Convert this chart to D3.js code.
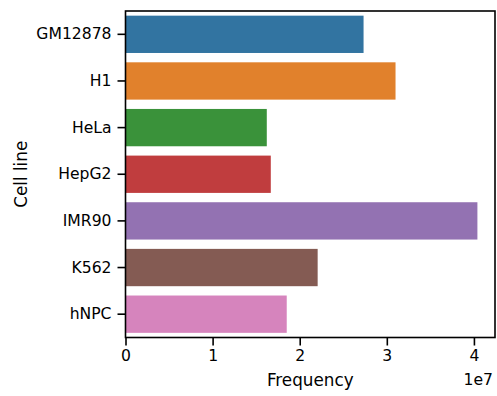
<!DOCTYPE html>
<html><head><meta charset="utf-8">
<script src="https://cdn.jsdelivr.net/npm/d3@7"></script>
<style>body{margin:0;background:#fff}svg{display:block}text{font-family:"DejaVu Sans",sans-serif;fill:#000}</style>
</head><body>
<script>
const categories = ["GM12878","H1","HeLa","HepG2","IMR90","K562","hNPC"];
const values = [2.733e7, 3.10e7, 1.622e7, 1.668e7, 4.04e7, 2.206e7, 1.851e7];
const colors = ["#3274a1","#e1812c","#3a923a","#c03d3e","#9372b2","#845b53","#d684bd"];
const xTicks = [0,1e7,2e7,3e7,4e7];

const W=497,H=396;
const L=125.5,R=495,T=11,B=337.5;
const svg=d3.select("body").append("svg").attr("width",W).attr("height",H);
const x=d3.scaleLinear().domain([0,d3.max(values)*1.05]).range([L,R]);
const y=d3.scaleBand().domain(categories).range([T,B]).paddingInner(0.2).paddingOuter(0.1);

svg.selectAll("rect.bar").data(categories).join("rect").attr("class","bar")
  .attr("x",x(0)).attr("y",d=>y(d)).attr("height",y.bandwidth())
  .attr("width",(d,i)=>x(values[i])-x(0)).attr("fill",(d,i)=>colors[i]);

// x axis
const xa=svg.append("g").attr("transform",`translate(0,${B})`)
  .call(d3.axisBottom(x).tickValues(xTicks).tickFormat(d=>d/1e7).tickSizeOuter(0).tickSize(8).tickPadding(4));
xa.select(".domain").remove();
xa.selectAll("line").attr("stroke","#000").attr("stroke-width",1.6);
xa.selectAll("text").attr("font-size",15.6).attr("font-family","DejaVu Sans");

// y axis
const ya=svg.append("g").attr("transform",`translate(${L},0)`)
  .call(d3.axisLeft(y).tickSizeOuter(0).tickSize(8).tickPadding(6));
ya.select(".domain").remove();
ya.selectAll("line").attr("stroke","#000").attr("stroke-width",1.6);
ya.selectAll("text").attr("font-size",15.6).attr("font-family","DejaVu Sans");

// frame
svg.append("rect").attr("x",L).attr("y",T).attr("width",R-L).attr("height",B-T)
  .attr("fill","none").attr("stroke","#000").attr("stroke-width",1.6);

svg.append("text").attr("x",(L+R)/2).attr("y",386).attr("text-anchor","middle")
  .attr("font-size",16.8).text("Frequency");
svg.append("text").attr("x",R-2).attr("y",385).attr("text-anchor","end")
  .attr("font-size",15.6).text("1e7");
svg.append("text").attr("transform",`translate(27,${(T+B)/2}) rotate(-90)`).attr("text-anchor","middle")
  .attr("font-size",16.8).text("Cell line");
</script>
</body></html>
